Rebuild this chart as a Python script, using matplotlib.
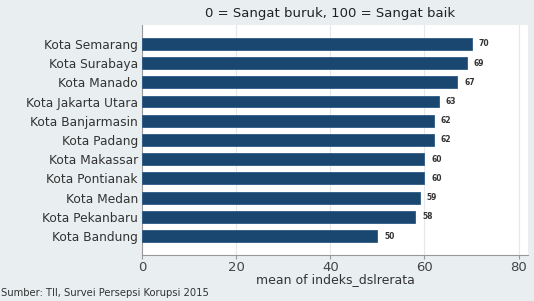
import matplotlib
matplotlib.use("Agg")
import matplotlib.pyplot as plt

cities = ["Kota Semarang", "Kota Surabaya", "Kota Manado", "Kota Jakarta Utara",
          "Kota Banjarmasin", "Kota Padang", "Kota Makassar", "Kota Pontianak",
          "Kota Medan", "Kota Pekanbaru", "Kota Bandung"]
values = [70, 69, 67, 63, 62, 62, 60, 60, 59, 58, 50]
x_ticks = [0, 20, 40, 60, 80]

bg = "#e9eff1"
bar_color = "#1a476f"
txt = "#333333"

fig = plt.figure(figsize=(5.34, 3.01), dpi=100, facecolor=bg)
ax = fig.add_axes([142 / 534, 1 - 255 / 301, (528 - 142) / 534, (255 - 25) / 301])
ax.set_facecolor("white")

pos = list(range(len(cities)))
ax.barh(pos, values, height=0.62, color=bar_color, edgecolor="#2c5a85", linewidth=0.6, zorder=3)
for p, v in zip(pos, values):
    ax.text(v + 1.5, p, str(v), va="center", ha="left", fontsize=5.5,
            color=txt, fontweight="bold")

ax.set_ylim(len(cities) - 0.02, -0.98)
ax.set_xlim(0, 82)
ax.set_yticks(pos)
ax.set_yticklabels(cities, fontsize=8.8, color=txt)
ax.tick_params(axis="y", length=0, pad=3)
ax.set_xticks(x_ticks)
ax.set_xticklabels([str(t) for t in x_ticks], fontsize=9.5, color="#444444")
ax.tick_params(axis="x", length=3, color="#999999", pad=1.5)
ax.grid(axis="x", color="#e4e8ea", linewidth=0.8, zorder=0)

for s in ["top", "right"]:
    ax.spines[s].set_visible(False)
ax.spines["left"].set_color("#999999")
ax.spines["bottom"].set_color("#999999")

ax.set_xlabel("mean of indeks_dslrerata", fontsize=9, color=txt, labelpad=-1)
fig.text(330 / 534, 1 - 14 / 301, "0 = Sangat buruk, 100 = Sangat baik",
         ha="center", va="center", fontsize=9.5, color="#222222")
fig.text(0.002, 1 - 293 / 301, "Sumber: TII, Survei Persepsi Korupsi 2015",
         ha="left", va="center", fontsize=7.2, color=txt)

fig.savefig("out.png", dpi=100, facecolor=bg)
